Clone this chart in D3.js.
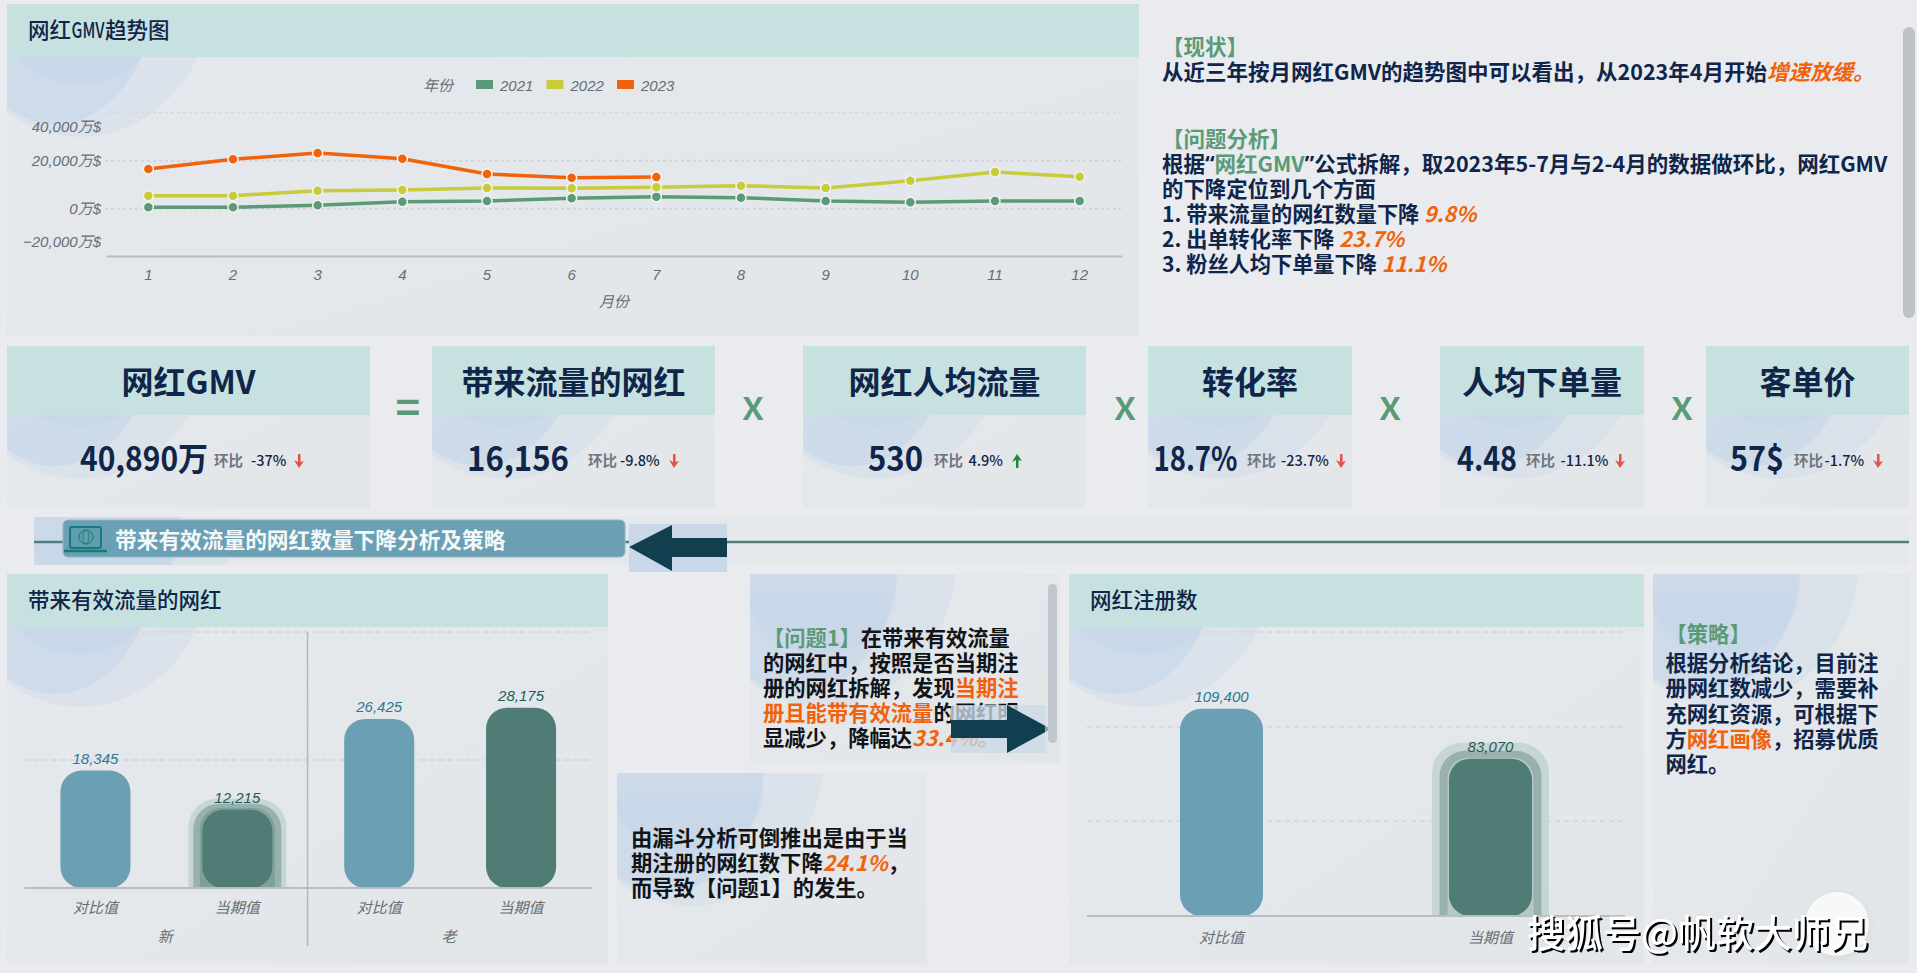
<!DOCTYPE html>
<html lang="zh">
<head>
<meta charset="utf-8">
<script src="https://cdn.jsdelivr.net/npm/d3@7"></script>
<style>
html,body{margin:0;padding:0;background:#e9ebef;overflow:hidden}
svg{display:block}
text{font-family:"Noto Sans CJK SC","Noto Sans",sans-serif}
.it{font-family:"Liberation Sans","Noto Sans CJK SC",sans-serif;font-style:italic}
</style>
</head>
<body>
<svg id="c" width="1917" height="973"></svg>
<script>
// ---------- data ----------
const months = [1,2,3,4,5,6,7,8,9,10,11,12];
const years = ["2021","2022","2023"];
const gmv2021 = [580,580,1420,2920,3200,4330,5000,4580,3200,2670,3200,3200];
const gmv2022 = [5417,5417,7500,7790,8625,8500,8917,9583,8625,11667,15292,13333];
const gmv2023 = [16540,20580,23200,20830,14460,12920,13200];
const gmvTicks = [40000,20000,0,-20000];

const kpiTitles = ["网红GMV","带来流量的网红","网红人均流量","转化率","人均下单量","客单价"];
const kpiValues = ["40,890万","16,156","530","18.7%","4.48","57$"];
const kpiDeltas = ["-37%","-9.8%","4.9%","-23.7%","-11.1%","-1.7%"];
const kpiUp = [false,false,true,false,false,false];

const trafficCats = ["对比值","当期值","对比值","当期值"];
const trafficGroups = ["新","新","老","老"];
const trafficVals = [18345,12215,26425,28175];
const regCats = ["对比值","当期值"];
const regVals = [109400,83070];

// ---------- layout ----------
const svg = d3.select("#c");
const C = {navy:"#0f2549",green:"#5b9a77",orange:"#f2620a",yellow:"#c8cc3a",blue:"#6ba0b4",teal:"#4f7c75",
  header:"#c7e1e0",axis:"#b9bcc0",grid:"#d2d5d8",tick:"#666e76",arrow:"#123f4f"};
const defs = svg.append("defs");
const grad = defs.append("linearGradient").attr("id","pg").attr("x1",0).attr("y1",0).attr("x2",1).attr("y2",1);
grad.append("stop").attr("offset",0).attr("stop-color","#e5e8ec");
grad.append("stop").attr("offset",1).attr("stop-color","#e2e6e9");
const dg = defs.append("linearGradient").attr("id","dg").attr("x1",0).attr("y1",0).attr("x2",0).attr("y2",1);
dg.append("stop").attr("offset",.1).attr("stop-color","#a6c4e6").attr("stop-opacity",.25);
dg.append("stop").attr("offset",.65).attr("stop-color","#a6c4e6").attr("stop-opacity",1);

let clipN = 0;
function deco(g,x,y,w,h){
  const id="cp"+(clipN++);
  defs.append("clipPath").attr("id",id).append("rect").attr("x",x).attr("y",y).attr("width",w).attr("height",h);
  const d=g.append("g").attr("clip-path",`url(#${id})`);
  [[73,-20,134,153,.16],[48,-15,100,135,.24],[72,20,75,60,.12]].forEach(e=>{
    d.append("ellipse").attr("cx",x+e[0]).attr("cy",y+e[1]).attr("rx",e[2]).attr("ry",e[3])
      .attr("fill","url(#dg)").attr("opacity",e[4]);
  });
}
function panel(x,y,w,h,hh){
  const g=svg.append("g");
  g.append("rect").attr("x",x).attr("y",y).attr("width",w).attr("height",h).attr("fill","url(#pg)");
  deco(g,x,y,w,h);
  if(hh) g.append("rect").attr("x",x).attr("y",y).attr("width",w).attr("height",hh).attr("fill",C.header);
  return g;
}
function rich(g,x,y,segs,size){
  const t=g.append("text").attr("x",x).attr("y",y-1.5).attr("dominant-baseline","central")
    .attr("font-size",size||21.3).attr("font-weight",700).attr("fill",segs.color||C.navy);
  segs.forEach(s=>{
    const sp=t.append("tspan").text(s.t);
    if(s.c) sp.attr("fill",s.c);
    if(s.i) sp.attr("font-style","italic");
    if(s.q) sp.style("font-family",'"Noto Sans",sans-serif');
  });
}
function title(g,x,y,s){
  g.append("text").attr("x",x).attr("y",y-2).attr("dominant-baseline","central")
   .attr("font-size",21.5).attr("font-weight",500).attr("fill",C.navy).text(s);
}

// ---------- trend panel ----------
const p1 = panel(7,4,1132,332,53);
p1.append("text").attr("x",28).attr("y",28).attr("dominant-baseline","central").attr("font-size",21.5).attr("font-weight",500).attr("fill",C.navy).text("网红");
p1.append("text").attr("x",71.5).attr("y",28).attr("dominant-baseline","central").attr("font-size",21.5).attr("font-weight",500).attr("fill",C.navy)
  .attr("textLength",33).attr("lengthAdjust","spacingAndGlyphs").text("GMV");
p1.append("text").attr("x",105).attr("y",28).attr("dominant-baseline","central").attr("font-size",21.5).attr("font-weight",500).attr("fill",C.navy).text("趋势图");

const x1 = d3.scaleBand().domain(months).range([106,1122]);
const y1 = d3.scaleLinear().domain([-20000,40000]).range([256.7,112.7]);
const gridG = p1.append("g");
gridG.selectAll("line").data(gmvTicks.slice(0,3)).join("line")
  .attr("x1",105).attr("x2",1121).attr("y1",d=>y1(d)).attr("y2",d=>y1(d))
  .attr("stroke",C.grid).attr("stroke-width",d=>d===40000?1:2).attr("stroke-dasharray","3 3");
const yAxis1 = p1.append("g").attr("transform","translate(105,0)")
  .call(d3.axisLeft(y1).tickValues(gmvTicks).tickSize(0).tickPadding(4).tickFormat(d=>d3.format(",")(d)+"万$"));
yAxis1.select(".domain").remove();
yAxis1.selectAll("text").attr("class","it").attr("font-size",15).attr("fill",C.tick)
  .style("font-family",'"Liberation Sans","Noto Sans CJK SC",sans-serif').style("font-style","italic")
  .attr("dy",d=>d===40000?"1.25em":d===-20000?"-0.65em":"0.32em");
const xAxis1 = p1.append("g").attr("transform","translate(0,256)")
  .call(d3.axisBottom(x1).tickSize(0).tickPadding(13));
xAxis1.select(".domain").attr("stroke",C.axis).attr("stroke-width",2);
xAxis1.selectAll("text").attr("font-size",15).attr("fill",C.tick)
  .style("font-family",'"Liberation Sans",sans-serif').style("font-style","italic");
p1.append("text").attr("class","it").attr("x",614).attr("y",301).attr("text-anchor","middle").attr("dominant-baseline","central")
  .attr("font-size",15).attr("fill",C.tick).text("月份");

const seriesColor = d3.scaleOrdinal().domain(years).range([C.green,C.yellow,C.orange]);
const gmvSeries = [gmv2021,gmv2022,gmv2023];
const line1 = d3.line().x((d,i)=>x1(months[i])+x1.bandwidth()/2).y(d=>y1(d));
gmvSeries.forEach((vals,si)=>{
  const g=p1.append("g");
  g.append("path").attr("d",line1(vals)).attr("fill","none").attr("stroke",seriesColor(years[si])).attr("stroke-width",3.5);
  g.selectAll("circle").data(vals).join("circle")
    .attr("cx",(d,i)=>x1(months[i])+x1.bandwidth()/2).attr("cy",d=>y1(d)).attr("r",5)
    .attr("fill",seriesColor(years[si])).attr("stroke","#f2f4f4").attr("stroke-width",1.5);
});
// legend
p1.append("text").attr("class","it").attr("x",438).attr("y",85).attr("text-anchor","middle").attr("dominant-baseline","central")
  .attr("font-size",15).attr("fill",C.tick).text("年份");
const legX = d3.scalePoint().domain(years).range([476,617]);
years.forEach(yr=>{
  p1.append("rect").attr("x",legX(yr)).attr("y",80).attr("width",17).attr("height",9).attr("fill",seriesColor(yr));
  p1.append("text").attr("class","it").attr("x",legX(yr)+24).attr("y",85).attr("dominant-baseline","central")
    .attr("font-size",15).attr("fill",C.tick).text(yr);
});

// ---------- top-right commentary ----------
const t1 = svg.append("g");
[
 [46,[{t:"【现状】",c:C.green}],21.5],
 [71,[{t:"从近三年按月网红GMV的趋势图中可以看出，从2023年4月开始"},{t:"增速放缓。",c:C.orange,i:1}],21.5],
 [138,[{t:"【问题分析】",c:C.green}],21.5],
 [163,[{t:"根据"},{t:"“",q:1},{t:"网红GMV",c:C.green},{t:"”",q:1},{t:"公式拆解，取2023年5-7月与2-4月的数据做环比，网红GMV"}],21.5],
 [188,[{t:"的下降定位到几个方面"}],21.4],
 [213,[{t:"1. 带来流量的网红数量下降 "},{t:"9.8%",c:C.orange,i:1}],21.2],
 [238,[{t:"2. 出单转化率下降 "},{t:"23.7%",c:C.orange,i:1}],21.2],
 [263,[{t:"3. 粉丝人均下单量下降 "},{t:"11.1%",c:C.orange,i:1}],21.2]
].forEach(l=>rich(t1,1162,l[0],l[1],l[2]));
t1.append("rect").attr("x",1903).attr("y",27).attr("width",12).attr("height",291).attr("rx",6).attr("fill","#bfc3c8");

// ---------- KPI cards ----------
const cardX = [[7,370],[432,715],[803,1086],[1148,1352],[1440,1644],[1706,1909]];
const valX = [80,467,868,1153.5,1457,1730];
const valW = [128,102,55,84,60,54];
const subX = [214,588,934,1247,1526,1794];
const delX = [251,620,968.5,1281,1560.5,1824.5];
const arrX = [299,674,1017,1341,1620,1878];
kpiTitles.forEach((tt,i)=>{
  const [a,b]=cardX[i];
  const g=panel(a,346,b-a,162,69);
  g.append("text").attr("x",(a+b)/2).attr("y",379.5).attr("text-anchor","middle").attr("dominant-baseline","central")
    .attr("font-size",32).attr("font-weight",700).attr("fill",C.navy).text(tt);
  g.append("text").attr("x",valX[i]).attr("y",457).attr("dominant-baseline","central")
    .attr("font-size",33).attr("font-weight",700).attr("fill",C.navy)
    .attr("textLength",valW[i]).attr("lengthAdjust","spacingAndGlyphs").text(kpiValues[i]);
  g.append("text").attr("x",subX[i]).attr("y",459).attr("dominant-baseline","central")
    .attr("font-size",14.5).attr("font-weight",700).attr("fill","#6f7780").text("环比");
  g.append("text").attr("x",delX[i]).attr("y",459).attr("dominant-baseline","central")
    .attr("font-size",14.5).attr("font-weight",500).attr("fill",C.navy).text(kpiDeltas[i]);
  const up=kpiUp[i], col=up?"#1f8a35":"#e8504c", s=up?1:-1;
  g.append("path").attr("transform",`translate(${arrX[i]},461) scale(1,${s})`)
    .attr("d","M0,-7 L5,0 L1.5,-1 L1.5,7 L-1,7 L-1,-1 L-5,1 Z").attr("fill",col);
});
// operators
const opX = [408,753,1125,1390,1682];
const opS = ["=","x","x","x","x"];
svg.append("g").selectAll("text").data(opS).join("text")
  .attr("x",(d,i)=>opX[i]).attr("y",(d,i)=>i===0?404:401).attr("text-anchor","middle").attr("dominant-baseline","central")
  .attr("font-size",42).attr("font-weight",(d,i)=>i===0?700:500).attr("fill",C.green).text(d=>d);

// ---------- section band ----------
const sec = svg.append("g");
sec.append("rect").attr("x",34).attr("y",517).attr("width",1875).attr("height",48).attr("fill","#e4e8eb");
deco(sec,34,517,1875,48);
sec.append("line").attr("x1",34).attr("x2",1909).attr("y1",542).attr("y2",542).attr("stroke","#4f8079").attr("stroke-width",2.5);
sec.append("rect").attr("x",63).attr("y",520).attr("width",562).attr("height",37).attr("rx",5)
  .attr("fill",C.blue).attr("stroke","#8fb8c6").attr("stroke-width",1);
const lap = sec.append("g").attr("fill","none").attr("stroke","#157a78");
lap.append("rect").attr("x",70).attr("y",527).attr("width",31).attr("height",21).attr("rx",2).attr("stroke-width",2).attr("fill","#5f9cac");
lap.append("circle").attr("cx",86).attr("cy",537).attr("r",7).attr("stroke-width",1);
lap.append("ellipse").attr("cx",86).attr("cy",537).attr("rx",3).attr("ry",7).attr("stroke-width",.8);
lap.append("line").attr("x1",64).attr("x2",107).attr("y1",551).attr("y2",551).attr("stroke-width",2.5);
sec.append("text").attr("x",115).attr("y",538).attr("dominant-baseline","central").attr("font-size",21.7).attr("font-weight",700)
  .attr("fill","#f4f8f9").text("带来有效流量的网红数量下降分析及策略");
sec.append("rect").attr("x",629).attr("y",524).attr("width",98).attr("height",48).attr("fill","#c9d8e8");
sec.append("path").attr("d","M629,547 L672,525 L672,538 L727,538 L727,557 L672,557 L672,571 Z").attr("fill",C.arrow);

// ---------- bar charts ----------
function barPanel(px,pw,title_,cats,vals,xr,yDom,ySteps,ay,topY,barW,hiIdx,rings,labelOff){
  const g=panel(px,574,pw,390,53);
  title(g,px+21,600,title_);
  const x=d3.scaleBand().domain(d3.range(vals.length)).range(xr);
  const y=d3.scaleLinear().domain(yDom).range([ay,topY]);
  g.append("g").selectAll("line").data(ySteps).join("line")
    .attr("x1",xr[0]).attr("x2",xr[1]).attr("y1",d=>y(d)).attr("y2",d=>y(d))
    .attr("stroke",C.grid).attr("stroke-width",1.5).attr("stroke-dasharray","5 4");
  const id="bc"+(clipN++);
  defs.append("clipPath").attr("id",id).append("rect").attr("x",xr[0]).attr("y",topY-10).attr("width",xr[1]-xr[0]).attr("height",ay-topY+10);
  const cx=i=>x(i)+x.bandwidth()/2;
  const rg=g.append("g").attr("clip-path",`url(#${id})`);
  rings.forEach(r=>{
    rg.append("rect").attr("x",cx(hiIdx)-barW/2-r.o).attr("y",y(vals[hiIdx])-r.t)
      .attr("width",barW+2*r.o).attr("height",ay-y(vals[hiIdx])+r.t+30).attr("rx",20+r.o*.6)
      .attr("fill",r.c);
  });
  g.append("g").selectAll("rect").data(vals).join("rect")
    .attr("x",(d,i)=>cx(i)-barW/2).attr("y",d=>y(d)).attr("width",barW).attr("height",d=>ay-y(d))
    .attr("rx",21).attr("fill",(d,i)=>i%2===0?C.blue:C.teal);
  g.append("line").attr("x1",xr[0]).attr("x2",xr[1]).attr("y1",ay).attr("y2",ay).attr("stroke",C.axis).attr("stroke-width",2);
  g.append("g").selectAll("text").data(vals).join("text").attr("class","it")
    .attr("x",(d,i)=>cx(i)).attr("y",d=>y(d)+labelOff).attr("text-anchor","middle").attr("dominant-baseline","central")
    .attr("font-size",15).attr("fill",(d,i)=>i%2===0?"#2c7a94":"#1e5d55").text(d=>d3.format(",")(d));
  g.append("g").selectAll("text").data(cats).join("text").attr("class","it")
    .attr("x",(d,i)=>cx(i)).attr("y",ay+(vals.length===4?19:21)).attr("text-anchor","middle").attr("dominant-baseline","central")
    .attr("font-size",15).attr("fill",C.tick).text(d=>d);
  return {g,x,cx};
}
const pa = barPanel(7,601,"带来有效流量的网红",trafficCats,trafficVals,[24.5,592],[0,40000],[20000,40000],888,632,70,1,
  [{o:14,t:11,c:"#c6d6d4"},{o:9,t:6,c:"#98b1ae"},{o:2.5,t:2,c:"#7f9f9a"}],-12);
// group dimension
pa.g.append("line").attr("x1",307.5).attr("x2",307.5).attr("y1",632).attr("y2",946).attr("stroke","#b4b8bb").attr("stroke-width",1.5);
const groupNames = Array.from(new Set(trafficGroups));
const gx = d3.scaleBand().domain(groupNames).range([24.5,592]);
pa.g.append("g").selectAll("text").data(groupNames).join("text").attr("class","it")
  .attr("x",d=>gx(d)+gx.bandwidth()/2-1).attr("y",936).attr("text-anchor","middle").attr("dominant-baseline","central")
  .attr("font-size",15).attr("fill",C.tick).text(d=>d);

barPanel(1069,575,"网红注册数",regCats,regVals,[1087,1625],[0,150000],[50000,100000,150000],916,632,83,1,
  [{o:17,t:16,c:"#c6d6d4"},{o:9.5,t:8,c:"#98b1ae"},{o:1.5,t:1,c:"#b4c8c5"}],-12.5);

// ---------- callouts ----------
const pb = panel(750,574,310,189,0);
const black="#111418";
[
 [637,[{t:"【问题1】",c:C.green},{t:"在带来有效流量"}]],
 [662,[{t:"的网红中，按照是否当期注"}]],
 [687,[{t:"册的网红拆解，发现"},{t:"当期注",c:C.orange}]],
 [712,[{t:"册且能带有效流量",c:C.orange},{t:"的网红明"}]],
 [737,[{t:"显减少，降幅达"},{t:"33.4%。",c:C.orange,i:1}]]
].forEach(l=>{l[1].color=black;rich(pb,763,l[0],l[1],21.3);});
pb.append("rect").attr("x",951).attr("y",705).attr("width",97).attr("height",48).attr("fill","#c9d8e8").attr("opacity",.78);
pb.append("path").attr("d","M951,720 L1007,720 L1007,705 L1051,729 L1007,753 L1007,738 L951,738 Z").attr("fill",C.arrow);
pb.append("rect").attr("x",1045).attr("y",581).attr("width",15).attr("height",176).attr("rx",7).attr("fill","#e3e6ea").attr("opacity",.6);
pb.append("rect").attr("x",1048).attr("y",584).attr("width",9).attr("height",159).attr("rx",4.5).attr("fill","#c2c6ce");

const pc = panel(617,773,310,191,0);
[
 [837,[{t:"由漏斗分析可倒推出是由于当"}]],
 [862,[{t:"期注册的网红数下降"},{t:"24.1%",c:C.orange,i:1},{t:"，"}]],
 [887,[{t:"而导致【问题1】的发生。"}]]
].forEach(l=>{l[1].color=black;rich(pc,631,l[0],l[1],21.3);});

const pd = panel(1653,574,256,390,0);
[
 [633,[{t:"【策略】",c:C.green}]],
 [662,[{t:"根据分析结论，目前注"}]],
 [687,[{t:"册网红数减少，需要补"}]],
 [713,[{t:"充网红资源，可根据下"}]],
 [738,[{t:"方"},{t:"网红画像",c:C.orange},{t:"，招募优质"}]],
 [763,[{t:"网红。"}]]
].forEach(l=>rich(pd,1665.5,l[0],l[1],21.3));

// ---------- overlay button + watermark ----------
defs.append("filter").attr("id","soft").attr("x","-30%").attr("y","-30%").attr("width","160%").attr("height","160%")
  .append("feGaussianBlur").attr("stdDeviation",4);
svg.append("ellipse").attr("cx",1838).attr("cy",926).attr("rx",32).attr("ry",33).attr("fill","#cfd3d6").attr("opacity",.6).attr("filter","url(#soft)");
svg.append("circle").attr("cx",1837).attr("cy",924).attr("r",32).attr("fill","#f7f8f8");
svg.append("text").attr("x",1527).attr("y",930).attr("dominant-baseline","central").attr("font-size",38).attr("font-weight",500)
  .attr("fill","#fff").style("filter","drop-shadow(2px 2px 0 #000)").text("搜狐号@帆软大师兄");
</script>
</body>
</html>
